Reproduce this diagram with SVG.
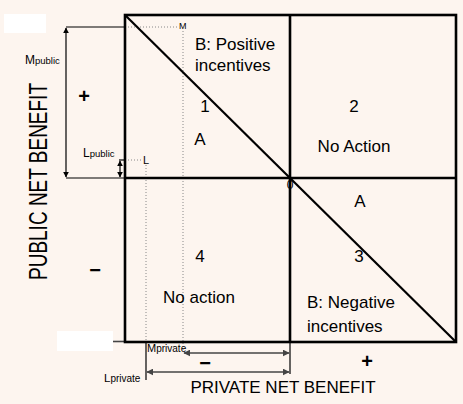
<svg xmlns="http://www.w3.org/2000/svg" width="463" height="404" viewBox="0 0 463 404">
<defs>
<marker id="ah" viewBox="0 0 10 10" refX="9" refY="5" markerWidth="6" markerHeight="6" orient="auto-start-reverse" markerUnits="userSpaceOnUse"><path d="M0,0 L10,5 L0,10 z" fill="#000"/></marker>
<marker id="ahg" viewBox="0 0 10 10" refX="9" refY="5" markerWidth="7" markerHeight="7" orient="auto-start-reverse" markerUnits="userSpaceOnUse"><path d="M0,0 L10,5 L0,10 z" fill="#444"/></marker>
<style>
text{font-family:"Liberation Sans",Arial,sans-serif;fill:#000}
.q{font-size:17px}
.sm{font-size:10px}
.bx{fill:none;stroke:#000;stroke-width:2.6}
.dot{stroke:#888;stroke-width:1;stroke-dasharray:1,2;fill:none}
.thin{stroke:#000;stroke-width:1.2;fill:none}
.gr{stroke:#444;stroke-width:1.6;fill:none}
.sign{font-size:20px;font-weight:bold}
</style>
</defs>
<rect width="463" height="404" fill="#fdf5ef"/>
<rect x="4" y="14" width="42" height="19" fill="#fff"/>
<rect x="57" y="331" width="56" height="20" fill="#fff"/>

<g id="connectors">
<!-- M public dimension -->
<line class="thin" x1="66" y1="27" x2="125" y2="27"/>
<line class="thin" x1="66" y1="178" x2="125" y2="178"/>
<line class="thin" x1="66" y1="28" x2="66" y2="177" marker-start="url(#ah)" marker-end="url(#ah)"/>
<!-- L public dimension -->
<line class="thin" x1="119" y1="160" x2="125" y2="160"/>
<line class="thin" x1="120" y1="161" x2="120" y2="177" marker-start="url(#ah)" marker-end="url(#ah)"/>
<!-- dotted guides -->
<line class="dot" x1="125" y1="27" x2="178" y2="27"/>
<line class="dot" x1="183" y1="31" x2="183" y2="350"/>
<line class="dot" x1="125" y1="160" x2="142" y2="160"/>
<line class="dot" x1="146" y1="165" x2="146" y2="341"/>
<!-- bottom dimensions -->
<line class="gr" x1="113" y1="341.5" x2="125" y2="341.5"/>
<line class="thin" x1="146" y1="341" x2="146" y2="380"/>
<line class="thin" x1="290" y1="341" x2="290" y2="374"/>
<line class="gr" x1="184" y1="353" x2="289" y2="353" marker-start="url(#ahg)" marker-end="url(#ahg)"/>
<line class="gr" x1="147" y1="372" x2="289" y2="372" marker-start="url(#ahg)" marker-end="url(#ahg)"/>
</g>

<g id="grid">
<rect class="bx" x="125" y="15" width="331" height="327"/>
<line class="bx" x1="290" y1="15" x2="290" y2="342"/>
<line class="bx" x1="125" y1="178" x2="456" y2="178"/>
<line stroke="#000" stroke-width="2.2" x1="125" y1="15" x2="456" y2="342"/>
</g>

<g id="q1">
<text class="q" x="195" y="50">B: Positive</text>
<text class="q" x="195" y="71">incentives</text>
<text class="q" x="205" y="112" text-anchor="middle">1</text>
<text class="q" x="200" y="145" text-anchor="middle">A</text>
</g>
<g id="q2">
<text class="q" x="354" y="112" text-anchor="middle">2</text>
<text class="q" x="354" y="152" text-anchor="middle">No Action</text>
</g>
<g id="q3">
<text class="q" x="360" y="207" text-anchor="middle">A</text>
<text class="q" x="359" y="262" text-anchor="middle">3</text>
<text class="q" x="307" y="308">B: Negative</text>
<text class="q" x="307" y="332">incentives</text>
</g>
<g id="q4">
<text class="q" x="200" y="262" text-anchor="middle">4</text>
<text class="q" x="199" y="303" text-anchor="middle">No action</text>
</g>
<g id="origin"><text x="290" y="189" font-size="12" text-anchor="middle">0</text></g>

<g id="labels">
<text x="25" y="64" font-size="12">M<tspan font-size="9.5">public</tspan></text>
<text x="83" y="157" font-size="12">L<tspan font-size="9.5">public</tspan></text>
<text x="143" y="164" font-size="11">L</text>
<text x="179" y="29" font-size="9">M</text>
<text x="147" y="352" font-size="11">M<tspan font-size="10">private</tspan></text>
<text x="104" y="382" font-size="11.5">L<tspan font-size="10">private</tspan></text>
<text class="sign" x="84" y="103" text-anchor="middle">+</text>
<text class="sign" x="95" y="277" text-anchor="middle">−</text>
<text class="sign" x="205" y="370" text-anchor="middle">−</text>
<text class="sign" x="367" y="368" text-anchor="middle">+</text>
<text x="283" y="393" font-size="17" text-anchor="middle">PRIVATE NET BENEFIT</text>
<text x="0" y="0" font-size="26" text-anchor="middle" textLength="197" lengthAdjust="spacingAndGlyphs" transform="translate(47,181.5) rotate(-90)">PUBLIC NET BENEFIT</text>
</g>
</svg>
